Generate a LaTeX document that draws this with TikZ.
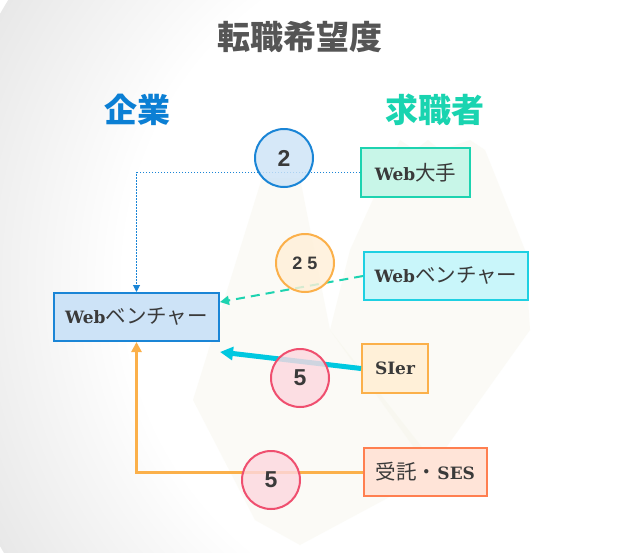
\documentclass[tikz,border=0pt]{standalone}
\usepackage{fontspec}
\setmainfont{DejaVu Serif}
\newfontfamily\cjk{Noto Sans CJK JP}
\newfontfamily\numf{Liberation Sans}
\usetikzlibrary{arrows.meta,calc}
\definecolor{txt}{HTML}{3A3A3A}
\definecolor{ttl}{HTML}{555555}
\definecolor{kblue}{HTML}{0B7FD4}
\definecolor{kteal}{HTML}{19D4B0}
\definecolor{bstroke}{HTML}{1A85D6}
\definecolor{bfill}{HTML}{CDE3F7}
\definecolor{tstroke}{HTML}{1DD3B0}
\definecolor{tfill}{HTML}{C8F6E8}
\definecolor{cstroke}{HTML}{1ED0E2}
\definecolor{cfill}{HTML}{C9F6FA}
\definecolor{ostroke}{HTML}{FBB04A}
\definecolor{ofill}{HTML}{FFF0D8}
\definecolor{rstroke}{HTML}{FF7F50}
\definecolor{rfill}{HTML}{FFE4D8}
\definecolor{pstroke}{HTML}{EF4F6F}
\definecolor{pfill}{HTML}{FDD8E0}
\definecolor{cyanline}{HTML}{00C8E0}
\definecolor{mount}{HTML}{F4F3E6}
\pgfdeclareradialshading{bgshade}{\pgfpoint{0bp}{0bp}}{color(0bp)=(white); color(16bp)=(white); color(40bp)=(gray!48); color(50bp)=(gray!60)}
\begin{document}
\begin{tikzpicture}[x=1pt,y=-1pt,
  box/.style={draw,line width=2pt,inner sep=0pt,text=txt,font=\fontsize{17}{20}\selectfont},
  num/.style={circle,draw,line width=2pt,minimum size=58pt,inner sep=0pt,text=txt,fill opacity=0.82,text opacity=1,font=\numf\bfseries\fontsize{23}{26}\selectfont},
  head/.style={font=\cjk\bfseries\fontsize{33}{36}\selectfont},
  tip/.style={-{Triangle[length=#1,width=#1]}}
]
\useasboundingbox (0,0) rectangle (634,552);
\begin{scope}
\clip (0,0) rectangle (634,552);
\shade[shading=bgshade] (470,280) circle (540);
\end{scope}
% faint background shapes
\fill[mount,opacity=0.35] (262,178) -- (300,178) -- (330,330) -- (440,470) -- (300,545) -- (255,520) -- (193,400) -- cycle;
\fill[mount,opacity=0.35] (400,140) -- (415,150) -- (428,140) -- (440,150) -- (470,140) -- (485,150) -- (525,250) -- (530,330) -- (430,470) -- (330,330) -- (350,250) -- cycle;

\node[head,text=ttl] (title) at (300,37) {転職希望度};
\node[head,text=kblue] (kigyo) at (137,110) {企業};
\node[head,text=kteal] (kyu) at (435,110) {求職者};

\newcommand{\jtext}[1]{{\cjk\mdseries\fontsize{20.5}{22}\selectfont #1}}
\node[box,draw=tstroke,fill=tfill,minimum width=109pt,minimum height=49pt] (wm) at (415.5,172.5) {\bfseries Web\jtext{大手}};
\node[box,draw=cstroke,fill=cfill,minimum width=164pt,minimum height=48pt] (rv) at (446,276) {\bfseries Web\jtext{ベンチャー}};
\node[box,draw=bstroke,fill=bfill,minimum width=165pt,minimum height=48pt] (lv) at (136.5,317) {\bfseries Web\jtext{ベンチャー}};
\node[box,draw=ostroke,fill=ofill,minimum width=66pt,minimum height=49pt] (si) at (395,368.5) {\bfseries SIer};
\node[box,draw=rstroke,fill=rfill,minimum width=123pt,minimum height=48pt] (ses) at (425.5,472) {\jtext{受託・}\bfseries SES};

\draw[bstroke,line width=1pt,dash pattern=on 1.5pt off 1.5pt,tip=7pt] (wm.west) -| (lv.north);
\draw[tstroke,line width=2pt,dash pattern=on 9pt off 6pt,tip=9pt] (rv.west) -- ([yshift=15pt]lv.east);
\draw[cyanline,line width=5pt,tip=13pt] (si.west) -- ([yshift=-10pt]lv.south east);
\draw[ostroke,line width=3pt,tip=10pt] (ses.west) -| (lv.south);

\node[num,draw=bstroke,fill=bfill] (c1) at (284,158) {2};
\node[num,draw=ostroke,fill=ofill,font=\numf\bfseries\fontsize{18}{20}\selectfont] (c2) at (305,263) {2\hspace{5pt}5};
\node[num,draw=pstroke,fill=pfill] (c3) at (300,378) {5};
\node[num,draw=pstroke,fill=pfill] (c4) at (271,480) {5};
\end{tikzpicture}
\end{document}
